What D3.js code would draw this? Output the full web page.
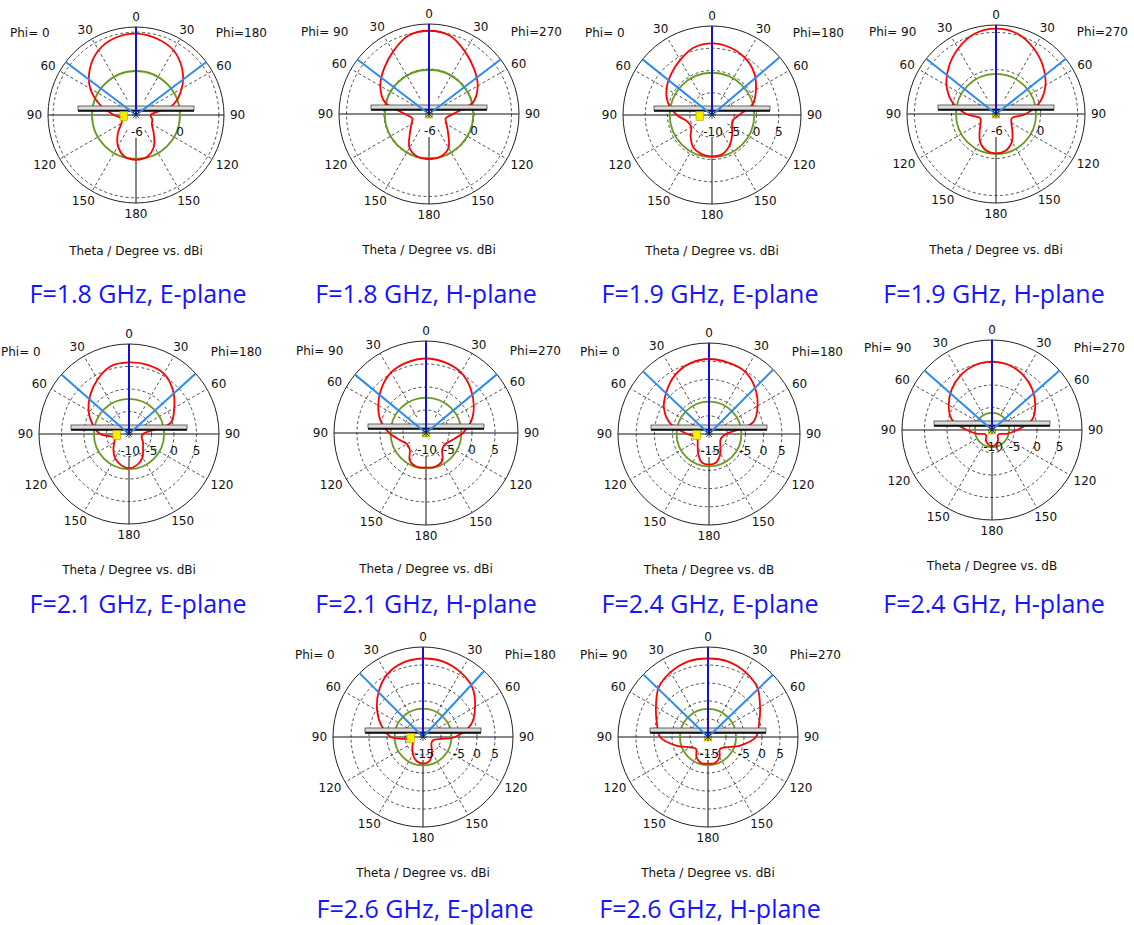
<!DOCTYPE html>
<html>
<head>
<meta charset="utf-8">
<script src="https://cdn.jsdelivr.net/npm/d3@7"></script>
<style>
  body { margin: 0; background: #ffffff; }
  svg { display: block; }
</style>
</head>
<body>
<svg id="chart" width="1134" height="925"></svg>
<script>
// Far-field gain cuts in dB, sampled every 15 degrees clockwise from theta = 0 (top).
// 0..180 runs down the right half of each plot, 195..345 climbs back up the left half.
const sampleAngles = d3.range(0, 360, 15);

const gain18E = [5.1, 4.8, 4.2, 2.9, 1.2, -0.8, -4.0, -3.7, -3.5, -2.6, -1.1, -0.1, 0.1, -0.1, -1.1, -2.5, -3.7, -4.0, -3.0, -1.0, 1.2, 2.9, 4.2, 4.9];
const gain18H = [5.1, 4.8, 3.6, 2.5, 1.5, 0.1, -2.8, -3.7, -3.3, -2.4, -0.8, -0.1, 0.0, -0.1, -0.8, -2.4, -3.3, -3.7, -2.8, 0.1, 1.5, 2.5, 3.6, 4.8];
const gain19E = [6.1, 5.7, 4.8, 3.4, 1.4, -0.5, -3.9, -5.2, -4.8, -3.6, -2.1, -0.9, -0.7, -0.9, -1.6, -3.2, -4.6, -4.3, -2.1, 0.2, 1.8, 3.0, 4.3, 5.7];
const gain19H = [5.5, 5.2, 4.2, 3.0, 1.7, 0.1, -2.0, -3.8, -3.6, -2.9, -1.7, -0.9, -0.7, -0.9, -1.7, -2.9, -3.6, -3.8, -2.0, 0.1, 1.7, 3.0, 4.2, 5.2];
const gain21E = [5.9, 5.9, 5.5, 3.8, 1.6, -0.4, -6.9, -7.1, -6.4, -5.6, -4.0, -2.9, -2.4, -2.9, -3.8, -5.1, -6.2, -6.7, -3.6, -1.6, 0.4, 2.2, 4.0, 5.6];
const gain21H = [6.2, 5.9, 5.2, 3.7, 2.0, 0.2, -2.0, -4.1, -5.2, -5.0, -3.0, -2.4, -2.5, -2.4, -3.0, -5.0, -5.2, -4.1, -2.0, 0.2, 2.0, 3.7, 5.2, 5.9];
const gain24E = [5.6, 5.3, 4.8, 2.9, 0.4, -2.4, -10.3, -11.4, -11.4, -10.6, -8.8, -7.0, -6.6, -7.0, -9.0, -10.6, -11.4, -11.4, -9.0, -4.0, -0.7, 1.5, 3.7, 5.1];
const gain24H = [5.2, 4.9, 4.0, 2.7, 1.1, -0.7, -4.4, -6.7, -8.2, -8.2, -7.3, -6.7, -6.4, -6.7, -7.3, -8.2, -8.2, -6.7, -4.4, -0.7, 1.1, 2.7, 4.0, 4.9];
const gain26E = [6.8, 6.7, 5.8, 4.4, 1.7, -1.1, -6.1, -11.9, -12.2, -11.7, -10.0, -8.1, -7.6, -8.1, -9.4, -10.8, -11.7, -11.7, -6.1, -3.1, -0.3, 2.5, 5.0, 6.4];
const gain26H = [6.8, 6.7, 5.8, 4.4, 1.7, -0.3, -1.7, -5.8, -9.2, -10.3, -8.6, -7.5, -7.6, -7.5, -8.6, -10.3, -9.2, -5.8, -1.7, -0.3, 1.7, 4.4, 5.8, 6.7];

const gainCuts = [gain18E, gain18H, gain19E, gain19H, gain21E, gain21H, gain24E, gain24H, gain26E, gain26H];

const panelTitles = [
  "F=1.8 GHz, E-plane", "F=1.8 GHz, H-plane", "F=1.9 GHz, E-plane", "F=1.9 GHz, H-plane",
  "F=2.1 GHz, E-plane", "F=2.1 GHz, H-plane", "F=2.4 GHz, E-plane", "F=2.4 GHz, H-plane",
  "F=2.6 GHz, E-plane", "F=2.6 GHz, H-plane"
];
const isEPlane = [true, false, true, false, true, false, true, false, true, false];
const phiLeftLabels  = ["Phi= 0", "Phi= 90", "Phi= 0", "Phi= 90", "Phi= 0", "Phi= 90", "Phi= 0", "Phi= 90", "Phi= 0", "Phi= 90"];
const phiRightLabels = ["Phi=180", "Phi=270", "Phi=180", "Phi=270", "Phi=180", "Phi=270", "Phi=180", "Phi=270", "Phi=180", "Phi=270"];
const gainUnits = ["dBi", "dBi", "dBi", "dBi", "dBi", "dBi", "dB", "dB", "dBi", "dBi"];

// Radial scale of each plot: value at the centre, value at the outer circle
const scaleMin = [-6, -6, -10, -6, -10, -10, -15, -10, -15, -15];
const scaleMax = [6, 6, 10, 6, 10, 10, 10, 10, 10, 10];
const scaleTickLabels = [
  [-6, 0], [-6, 0], [-10, -5, 0, 5], [-6, 0], [-10, -5, 0, 5],
  [-10, -5, 0, 5], [-15, -5, 0, 5], [-10, -5, 0, 5], [-15, -5, 0, 5], [-15, -5, 0, 5]
];
const gridRings = [
  [0, 5.3], [0, 5], [-5, 0, 5], [0, 5], [-5, 0, 5],
  [-5, 0, 5], [-10, -5, 0, 5], [-5, 0, 5], [-10, -5, 0, 5], [-10, -5, 0, 5]
];
// Level of the reference (green) circle, dB
const levelCircle = [0.0, -0.1, -0.5, -0.6, -2.2, -2.3, -6.1, -6.2, -7.1, -7.2];
// Half-power beam edges, degrees from theta = 0 on the left and right halves
const beamEdges = [
  [53, 53], [52.7, 52.7], [51.3, 49.5], [51.6, 51.7], [48.7, 47.8],
  [50.6, 50.4], [46.5, 44.9], [48.6, 48.6], [44.8, 42.8], [45.9, 46.2]
];
const thetaTicksRight = [0, 30, 60, 90, 120, 150, 180];
const thetaTicksLeft = [30, 60, 90, 120, 150];

// Layout: plot centre and outer radius, caption position
const plotFrames = [
  [136, 115, 88], [429, 114, 90], [712, 115, 89], [996, 114, 89],
  [129, 434, 90], [426, 433, 92], [709, 434, 91], [992, 430, 90],
  [423, 737, 90], [708, 737, 90]
];
const captionX = [138, 426, 710, 994, 138, 426, 710, 994, 425, 710];
const captionY = [303, 303, 303, 303, 613, 613, 613, 613, 918, 918];

const deg = Math.PI / 180;
const svg = d3.select("#chart");
const axisFont = "'DejaVu Sans', Verdana, sans-serif";

plotFrames.forEach(([cx, cy, R], i) => {
  const g = svg.append("g").attr("transform", `translate(${cx},${cy})`);
  const r = d3.scaleLinear().domain([scaleMin[i], scaleMax[i]]).range([0, R]);
  const px = (a, rad) => rad * Math.sin(a * deg);
  const py = (a, rad) => -rad * Math.cos(a * deg);

  // dashed grid rings
  g.selectAll("circle.ring").data(gridRings[i]).join("circle")
    .attr("class", "ring")
    .attr("r", d => r(d))
    .attr("fill", "none")
    .attr("stroke", "#222")
    .attr("stroke-width", 0.8)
    .attr("stroke-dasharray", "3,2.5");

  // dashed spokes every 30 degrees off the main axes
  const spokes = [30, 60, 120, 150, 210, 240, 300, 330];
  const r0 = R * 0.2;
  g.selectAll("line.spoke").data(spokes).join("line")
    .attr("class", "spoke")
    .attr("x1", a => px(a, r0)).attr("y1", a => py(a, r0))
    .attr("x2", a => px(a, R)).attr("y2", a => py(a, R))
    .attr("stroke", "#222")
    .attr("stroke-width", 0.8)
    .attr("stroke-dasharray", "3,2.5");

  // solid axes
  g.append("line").attr("x1", -R).attr("x2", R).attr("y1", 0).attr("y2", 0)
    .attr("stroke", "#111").attr("stroke-width", 1);
  g.append("line").attr("x1", 0).attr("x2", 0).attr("y1", 23).attr("y2", R)
    .attr("stroke", "#111").attr("stroke-width", 1);
  g.append("line").attr("x1", 0).attr("x2", 0).attr("y1", 0).attr("y2", -R)
    .attr("stroke", "#111").attr("stroke-width", 1);

  // outer circle
  g.append("circle").attr("r", R).attr("fill", "none")
    .attr("stroke", "#222").attr("stroke-width", 1);

  // reference level circle
  g.append("circle").attr("r", r(levelCircle[i])).attr("fill", "none")
    .attr("stroke", "#6b9a22").attr("stroke-width", 1.8);

  // gain pattern
  const pts = sampleAngles.map((a, k) => ({ a, v: gainCuts[i][k] }));
  const radial = d3.lineRadial()
    .angle(d => d.a * deg)
    .radius(d => r(d.v))
    .curve(d3.curveCatmullRomClosed.alpha(0.5));
  g.append("path").attr("d", radial(pts))
    .attr("fill", "none").attr("stroke", "#ff0000").attr("stroke-width", 1.8);

  // antenna outline: substrate and ground plane
  g.append("rect").attr("x", -58).attr("y", -9).attr("width", 116).attr("height", 4)
    .attr("fill", "#dcdcdc").attr("stroke", "#444").attr("stroke-width", 0.8);
  g.append("rect").attr("x", -58).attr("y", -5).attr("width", 116).attr("height", 1.8)
    .attr("fill", "#111");

  // feed marker
  if (isEPlane[i]) {
    g.append("rect").attr("x", -16).attr("y", -3.5).attr("width", 7.5).attr("height", 9)
      .attr("fill", "#f5f000").attr("stroke", "#b0a000").attr("stroke-width", 0.6);
  } else {
    g.append("rect").attr("x", -3.5).attr("y", 0).attr("width", 7).attr("height", 4)
      .attr("fill", "#e8e000").attr("stroke", "#8a8a00").attr("stroke-width", 0.5);
  }

  // half-power beam edges
  const [bl, br] = beamEdges[i];
  [-bl, br].forEach(a => {
    g.append("line").attr("x1", 0).attr("y1", 0)
      .attr("x2", px(a, R)).attr("y2", py(a, R))
      .attr("stroke", "#2a8cf2").attr("stroke-width", 2);
  });
  // main lobe direction
  g.append("line").attr("x1", 0).attr("y1", 0).attr("x2", 0).attr("y2", -R)
    .attr("stroke", "#1010e0").attr("stroke-width", 2);

  // centre marker
  [[-3, -3, 3, 3], [-3, 3, 3, -3], [-4, 0, 4, 0], [0, -4, 0, 4]].forEach(s => {
    g.append("line").attr("x1", s[0]).attr("y1", s[1]).attr("x2", s[2]).attr("y2", s[3])
      .attr("stroke", "#223").attr("stroke-width", 0.8);
  });

  // theta labels
  const labelPos = (a, txt) => {
    const w = txt.length * 7.6;
    const x = px(a, R + 6) + Math.sin(a * deg) * w / 2;
    const y = py(a, R + 6) - Math.cos(a * deg) * 4.5;
    return [x, y];
  };
  const thetaLabels = thetaTicksRight.map(t => ({ a: t, t: String(t) }))
    .concat(thetaTicksLeft.map(t => ({ a: -t, t: String(t) })));
  g.selectAll("text.theta").data(thetaLabels).join("text")
    .attr("class", "theta")
    .attr("x", d => labelPos(d.a, d.t)[0])
    .attr("y", d => labelPos(d.a, d.t)[1])
    .attr("dy", "0.36em")
    .attr("text-anchor", "middle")
    .attr("font-family", axisFont).attr("font-size", 12).attr("fill", "#111")
    .text(d => d.t);

  // radial scale labels
  g.selectAll("text.scale").data(scaleTickLabels[i]).join("text")
    .attr("class", "scale")
    .attr("x", d => r(d) + (d === scaleMin[i] ? 1 : 0))
    .attr("y", 21)
    .attr("text-anchor", "middle")
    .attr("font-family", axisFont).attr("font-size", 12).attr("fill", "#111")
    .text(d => d);

  // cut plane labels
  g.append("text").attr("x", -R - 38).attr("y", -78)
    .attr("font-family", axisFont).attr("font-size", 12).attr("fill", "#111")
    .text(phiLeftLabels[i]);
  g.append("text").attr("x", R + 43).attr("y", -78).attr("text-anchor", "end")
    .attr("font-family", axisFont).attr("font-size", 12).attr("fill", "#111")
    .text(phiRightLabels[i]);

  // axis caption
  g.append("text").attr("x", 0).attr("y", 140).attr("text-anchor", "middle")
    .attr("font-family", axisFont).attr("font-size", 12).attr("fill", "#111")
    .text("Theta / Degree vs. " + gainUnits[i]);

  // panel title
  svg.append("text").attr("x", captionX[i]).attr("y", captionY[i])
    .attr("text-anchor", "middle")
    .attr("font-family", "'Open Sans', 'Noto Sans', sans-serif")
    .attr("font-size", 25)
    .attr("fill", "#1414ff")
    .text(panelTitles[i]);
});
</script>
</body>
</html>
